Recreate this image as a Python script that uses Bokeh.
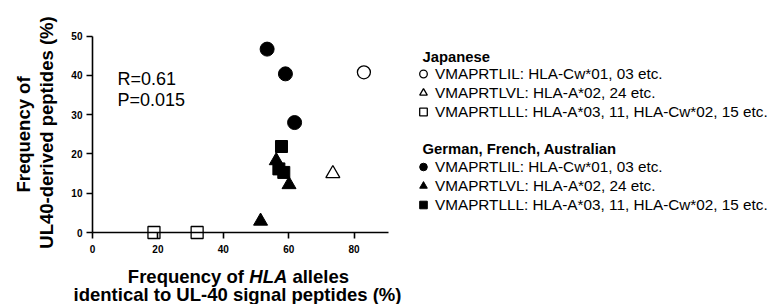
import math
from bokeh.plotting import figure
from bokeh.models import Label, Legend, LegendItem, FixedTicker, Range1d
from bokeh.embed import file_html
from bokeh.resources import INLINE

# ---- data ----
jp_il_x = [83.0]
jp_il_y = [40.8]
jp_vl_x = [73.5]
jp_vl_y = [15.0]
jp_ll_x = [18.8, 32.0]
jp_ll_y = [0.0, 0.0]
gfa_il_x = [53.4, 59.0, 61.8]
gfa_il_y = [46.7, 40.4, 28.0]
gfa_vl_x = [56.2, 60.1, 51.4]
gfa_vl_y = [18.3, 12.2, 2.9]
gfa_ll_x = [57.8, 57.0, 58.5]
gfa_ll_y = [21.9, 16.2, 15.3]

x_ticks = [0, 20, 40, 60, 80]
y_ticks = [0, 10, 20, 30, 40, 50]
x_axis_span = (0, 90.5)
y_axis_span = (0, 50)

labels_il = "VMAPRTLIL: HLA-Cw*01, 03 etc."
labels_vl = "VMAPRTLVL: HLA-A*02, 24 etc."
labels_ll = "VMAPRTLLL: HLA-A*03, 11, HLA-Cw*02, 15 etc."
group1 = "Japanese"
group2 = "German, French, Australian"
stats = ["R=0.61", "P=0.015"]

FONT = "Liberation Sans"
W, H = 774, 304

# the frame covers the whole canvas; axes are pinned at 0
p = figure(width=W, height=H,
           x_range=Range1d(-28.13, 208.56), y_range=Range1d(-18.33, 59.08),
           output_backend="svg", toolbar_location=None,
           min_border_left=0, min_border_right=0,
           min_border_top=0, min_border_bottom=0)
p.outline_line_color = None
p.grid.visible = False
p.background_fill_color = "white"

p.xaxis.fixed_location = 0
p.yaxis.fixed_location = 0
p.xaxis.bounds = x_axis_span
p.yaxis.bounds = y_axis_span
p.xaxis.ticker = FixedTicker(ticks=x_ticks)
p.yaxis.ticker = FixedTicker(ticks=y_ticks)
for ax in (p.xaxis, p.yaxis):
    ax.axis_line_color = "black"
    ax.axis_line_width = 1.6
    ax.major_tick_line_color = "black"
    ax.major_tick_line_width = 1.6
    ax.major_tick_out = 6
    ax.major_tick_in = 0
    ax.minor_tick_out = 0
    ax.minor_tick_in = 0
    ax.major_label_text_font = FONT
    ax.major_label_text_font_style = "bold"
    ax.major_label_text_font_size = "10px"
    ax.major_label_text_color = "black"
p.xaxis.major_label_standoff = 6
p.yaxis.major_label_standoff = 4

# markers
r_jp_il = p.scatter(jp_il_x, jp_il_y, marker="circle", size=13,
                    fill_color="white", line_color="black", line_width=1.3)
r_jp_vl = p.scatter(jp_vl_x, jp_vl_y, marker="triangle", size=14,
                    fill_color="white", line_color="black", line_width=1.3)
r_jp_ll = p.scatter(jp_ll_x, jp_ll_y, marker="square", size=12,
                    fill_color="white", line_color="black", line_width=1.3)
r_g_il = p.scatter(gfa_il_x, gfa_il_y, marker="circle", size=14,
                   fill_color="black", line_color="black")
r_g_vl = p.scatter(gfa_vl_x, gfa_vl_y, marker="triangle", size=14,
                   fill_color="black", line_color="black")
r_g_ll = p.scatter(gfa_ll_x, gfa_ll_y, marker="square", size=12,
                   fill_color="black", line_color="black")

# text annotations, screen px from canvas bottom-left
def lab(text, x, y, size="18.5px", style="bold", align="left", baseline="alphabetic", angle=0):
    l = Label(x=x, y=y, x_units="screen", y_units="screen", text=text,
              text_font=FONT, text_font_size=size, text_font_style=style,
              text_align=align, text_baseline=baseline, angle=angle,
              text_color="black")
    p.add_layout(l)
    return l

lab("Frequency of", 23, 170, align="center", baseline="middle", angle=math.pi / 2)
lab("UL40-derived peptides (%)", 46, 172, align="center", baseline="middle", angle=math.pi / 2)

lab("Frequency of", 243.5, 28, align="right")
lab("HLA", 248.8, 28, style="bold italic")
lab("alleles", 291.9, 28)
lab("identical to UL-40 signal peptides (%)", 237, 10, align="center")

lab(stats[0], 117, 226, size="18px", style="normal")
lab(stats[1], 117, 205, size="18px", style="normal")

lab(group1, 422, 248, size="14.8px")
lab(group2, 422, 156, size="14.8px")

def make_legend(items, loc):
    lg = Legend(items=items, location=loc, orientation="vertical",
                glyph_width=24, glyph_height=19, label_height=19,
                spacing=0, padding=0, margin=0, label_standoff=0,
                border_line_color=None, background_fill_alpha=0,
                label_text_font=FONT, label_text_font_size="15.3px",
                label_text_color="black")
    p.add_layout(lg, "center")
    return lg

make_legend([LegendItem(label=labels_il, renderers=[r_jp_il]),
             LegendItem(label=labels_vl, renderers=[r_jp_vl]),
             LegendItem(label=labels_ll, renderers=[r_jp_ll])], (411, 183))
make_legend([LegendItem(label=labels_il, renderers=[r_g_il]),
             LegendItem(label=labels_vl, renderers=[r_g_vl]),
             LegendItem(label=labels_ll, renderers=[r_g_ll])], (411, 90))

open("out.html", "w").write(file_html(p, INLINE))
